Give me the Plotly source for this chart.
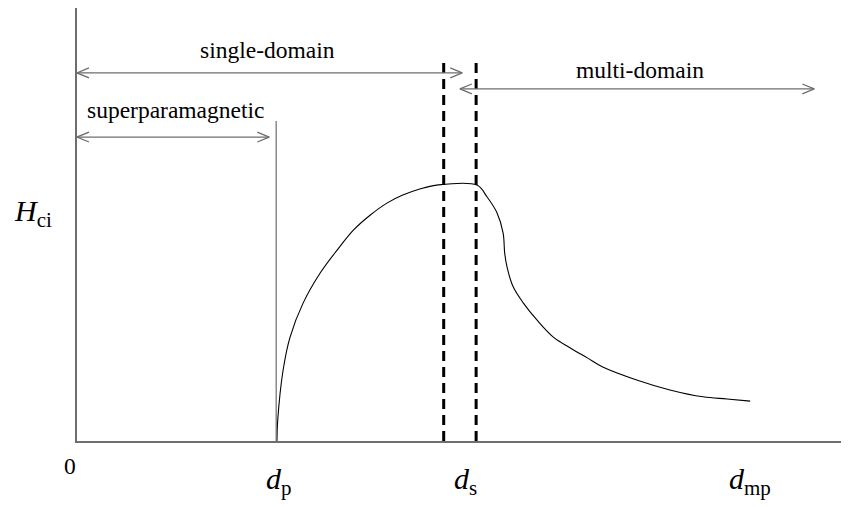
import plotly.graph_objects as go

# ---- data (arbitrary units: x 0..100, y 0..100) ----
curve_x = [25.9, 26.0, 26.7, 27.6, 29.3, 31.5, 33.7, 35.8, 38.0, 40.2, 42.2, 44.4, 46.6,
           51.8, 53.1, 54.4, 55.2, 55.4, 55.7, 56.5, 57.8, 59.6, 61.7, 63.9, 66.1, 68.1,
           72.5, 76.8, 81.1, 84.2, 87.2]
curve_y = [0.0, 4.8, 16.4, 24.0, 31.9, 38.8, 44.1, 48.7, 52.2, 55.0, 56.8, 58.2, 59.1,
           59.1, 56.4, 52.7, 48.0, 43.4, 40.2, 35.6, 31.9, 27.9, 24.0, 21.5, 19.2, 17.1,
           14.1, 11.8, 10.2, 9.7, 9.2]

d_p = 25.8
d_p_top = 73.9
d_s_lines = [47.5, 51.7]
d_s_top = 88.7

region_names = ["single-domain", "superparamagnetic", "multi-domain"]
region_x0 = [0.0, 0.0, 49.6]
region_x1 = [49.9, 24.9, 95.5]
region_arrow_y = [85.0, 70.2, 81.3]
region_text_x = [24.7, 12.8, 72.9]
region_text_y = [90.3, 76.4, 85.7]

tick_labels = ["<i>d</i><sub>p</sub>", "<i>d</i><sub>s</sub>", "<i>d</i><sub>mp</sub>"]
tick_x = [24.2, 48.6, 84.2]
tick_y = -14.2

origin_label = "0"
origin_pos = (-0.9, -5.8)
ylabel = "<i>H</i><sub>ci</sub>"
ylabel_pos = (-5.7, 52.7)

X_MAX = 100.0
Y_MAX = 100.0
HEAD_DX = 1.55
HEAD_DY = 1.15

FONT = "Liberation Serif"
GRAY = "#6e6e6e"


def px(v):
    return v / X_MAX


def py(v):
    return v / Y_MAX


fig = go.Figure()

# main curve
fig.add_trace(go.Scatter(x=curve_x, y=curve_y, mode="lines",
                         line=dict(color="black", width=1.1, shape="spline", smoothing=1.0),
                         hoverinfo="skip"))

# d_p vertical line
fig.add_trace(go.Scatter(x=[d_p, d_p], y=[0, d_p_top], mode="lines",
                         line=dict(color=GRAY, width=1.2), hoverinfo="skip"))

# dashed d_s lines
for xv in d_s_lines:
    fig.add_trace(go.Scatter(x=[xv, xv], y=[0, d_s_top], mode="lines",
                             line=dict(color="black", width=3, dash="10px,6px"),
                             hoverinfo="skip"))

# double-headed arrows with open chevrons
ax, ay = [], []
for x0, x1, y in zip(region_x0, region_x1, region_arrow_y):
    ax += [x0, x1, None]
    ay += [y, y, None]
    ax += [x0 + HEAD_DX, x0, x0 + HEAD_DX, None]
    ay += [y + HEAD_DY, y, y - HEAD_DY, None]
    ax += [x1 - HEAD_DX, x1, x1 - HEAD_DX, None]
    ay += [y + HEAD_DY, y, y - HEAD_DY, None]
fig.add_trace(go.Scatter(x=ax, y=ay, mode="lines",
                         line=dict(color=GRAY, width=1.3), hoverinfo="skip"))

annotations = []
for name, tx, ty in zip(region_names, region_text_x, region_text_y):
    annotations.append(dict(x=px(tx), y=py(ty), xref="paper", yref="paper", text=name,
                            showarrow=False, font=dict(family=FONT, size=23.5, color="black"),
                            xanchor="center", yanchor="middle"))
for lab, tx in zip(tick_labels, tick_x):
    annotations.append(dict(x=px(tx), y=py(tick_y), xref="paper", yref="paper", text=lab,
                            showarrow=False, font=dict(family=FONT, size=30, color="black"),
                            xanchor="left", yanchor="bottom"))
annotations.append(dict(x=px(origin_pos[0]), y=py(origin_pos[1]), xref="paper", yref="paper",
                        text=origin_label, showarrow=False,
                        font=dict(family=FONT, size=23.5, color="black"),
                        xanchor="center", yanchor="middle"))
annotations.append(dict(x=px(ylabel_pos[0]), y=py(ylabel_pos[1]), xref="paper", yref="paper",
                        text=ylabel, showarrow=False,
                        font=dict(family=FONT, size=30, color="black"),
                        xanchor="center", yanchor="middle"))

fig.update_layout(
    width=841, height=499,
    margin=dict(l=69, r=0, t=0, b=66),
    paper_bgcolor="white", plot_bgcolor="white",
    showlegend=False,
    annotations=annotations,
    xaxis=dict(range=[0, X_MAX], showgrid=False, zeroline=False, showticklabels=False,
               ticks="", showline=True, linecolor=GRAY, linewidth=2, fixedrange=True),
    yaxis=dict(range=[0, Y_MAX], showgrid=False, zeroline=False, showticklabels=False,
               ticks="", showline=True, linecolor=GRAY, linewidth=2, fixedrange=True),
)

fig.write_html("out.html")
